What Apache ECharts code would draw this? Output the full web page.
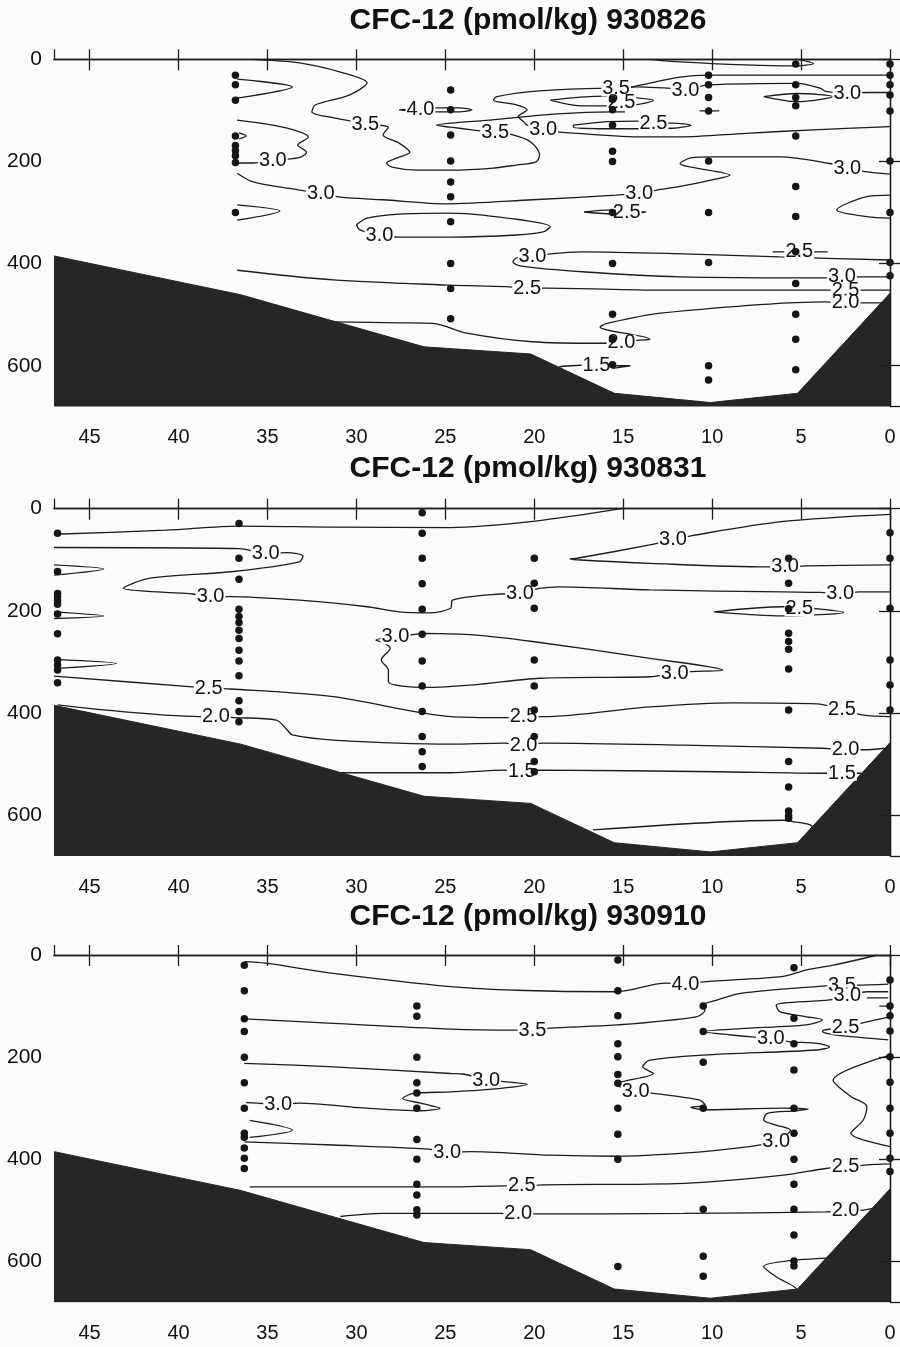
<!DOCTYPE html>
<html>
<head>
<meta charset="utf-8">
<script src="https://cdn.jsdelivr.net/npm/echarts/dist/echarts.min.js"></script>
<style>
  html, body { margin: 0; padding: 0; background: #fbfbfa; }
  #chart { width: 900px; height: 1347px; }
</style>
</head>
<body>
<div id="chart"></div>
<script>
// CFC-12 sections — three surveys, distance (km, reversed) vs depth (m)
//   contours are hand-read polylines, labels sit on a paper-coloured box

const TITLES = ["CFC-12 (pmol/kg) 930826", "CFC-12 (pmol/kg) 930831", "CFC-12 (pmol/kg) 930910"];

// sea floor, shared by all three panels: [distance, depth]
const BATHY = [[47,385],[36.5,461],[26.2,563],[20.2,577],[15.5,654],[10.1,672],[5.2,654],[0,458]];

// ── 930826 ────────────────────────────────────────────────────────────
const P1_STATIONS = [
  [36.8, [31,50,80,150,169,179,189,202,300]],
  [24.7, [60,99,148,199,240,269,318,400,449,508]],
  [15.6, [78,99,129,180,200,300,400,499,548,598]],
  [10.2, [31,50,75,101,199,300,398,600,628]],
  [5.3,  [9,50,75,91,150,249,308,377,439,499,548,608]],
  [0,    [9,31,50,70,101,199,300,398,424]],
];
const P1_LINES = [
  [[35.8,0],[33.2,7],[30.9,25],[29.4,46],[30.4,70],[32.3,89],[32.5,103],[31.2,115],[30.3,121],[29.5,127],[28.2,133],[28.5,148],[27.6,164],[27.0,182],[27.7,193],[28.3,203],[28.0,211],[26.6,217],[24.7,217],[22.3,213],[21.0,207],[19.9,201],[19.7,187],[20.2,162],[21.2,148],[22.2,144],[23.5,138],[24.7,133],[25.5,129],[24.7,125],[22.5,119],[18.7,107],[15.7,103],[14.9,103]],
  [[27.6,99],[25.9,95],[24.2,95],[23.5,99],[24.2,103],[25.9,103],[27.6,99]],
  [[0,65],[1.3,65],[2.4,66],[3.6,63],[3.9,57],[5.2,47],[10.2,50],[11.5,58],[12.7,56],[14.2,54],[15.4,58],[16.3,57],[19.7,62],[22.1,73],[22.3,80],[21.0,89],[20.4,99],[20.9,112],[20.6,122],[20.4,129],[19.5,138],[18.4,143],[14.1,152],[11.8,152],[8.1,145],[4.3,138],[0,132]],
  [[0,31],[10.2,31],[11.8,35],[14.5,54],[15.4,58]],
  [[13.5,0],[11.8,5],[8.1,11],[5.4,13],[4.3,8],[5.2,0]],
  [[7.1,73],[5.2,67],[3.2,73],[5.2,83],[7.1,73]],
  [[10.7,101],[9.6,101]],
  [[19.1,80],[17.4,74],[15.9,72],[14.1,76],[13.3,80],[14.9,91],[17.4,91],[19.1,80]],
  [[17.8,129],[15.9,122],[14.1,121],[13.3,125],[12.2,125],[11.2,129],[12.2,135],[15.9,136],[17.8,133],[17.8,129]],
  [[36.7,39],[33.6,54],[36.7,76]],
  [[36.7,119],[34.7,129],[33.2,142],[32.7,152],[33.3,168],[32.8,182],[33.1,191],[33.7,195],[34.7,199],[35.8,203],[36.6,203],[36.8,201]],
  [[36.6,144],[36.2,150],[36.6,156]],
  [[36.7,223],[35.8,240],[33.2,256],[32.0,262],[30.9,270],[28.5,275],[24.9,283],[20.1,275],[15.4,266],[14.1,262],[13.1,256],[11.8,249],[10.0,236],[9.0,227],[11.8,204],[11.2,193],[10.0,191],[6.2,191],[3.4,204],[2.4,213],[1.4,220],[0,225]],
  [[36.7,285],[34.3,297],[36.7,315]],
  [[30.0,324],[29.4,311],[27.6,303],[24.9,301],[22.9,305],[19.1,328],[19.5,338],[21.0,344],[24.7,348],[27.6,348],[28.7,344],[29.8,334],[30.0,324]],
  [[17.2,299],[15.7,295],[14.8,297],[13.7,299],[15.4,303],[17.2,299]],
  [[0,266],[1.3,269],[3.0,295],[1.3,308],[0,311]],
  [[0,393],[6.2,387],[11.6,381],[17.3,377],[19.1,381],[20.1,387],[21.0,389],[21.2,397],[20.7,405],[17.3,416],[11.8,426],[3.8,428],[2.7,426],[1.7,426],[0,426]],
  [[6.6,377],[3.5,377]],
  [[36.7,413],[31.3,432],[24.9,442],[21.6,445],[20.4,448],[19.3,448],[12.9,452],[3.6,452],[2.5,452],[0,452]],
  [[31.3,514],[27.6,516],[25.7,517],[23.8,536],[20.1,553],[16.3,556],[15.1,554],[14.1,550],[13.5,548],[16.3,524],[15.9,517],[12.9,497],[3.6,475],[2.5,477],[1.4,477],[0.4,477]],
  [[18.6,602],[17.4,599],[16.5,599],[15.6,600],[14.6,600],[15.6,605]],
];
const P1_LABELS = [
  [29.5,127,"3.5"],[22.2,144,"3.5"],[26.4,99,"4.0"],[2.4,66,"3.0"],[11.5,62,"3.0"],[15.4,58,"3.5"],
  [19.5,138,"3.0"],[15.1,84,"2.5"],[13.3,125,"2.5"],[34.7,199,"3.0"],[32.0,262,"3.0"],[14.1,262,"3.0"],
  [2.4,213,"3.0"],[28.7,344,"3.0"],[14.8,299,"2.5"],[20.1,387,"3.0"],[2.7,426,"3.0"],[5.1,377,"2.5"],
  [20.4,448,"2.5"],[2.5,452,"2.5"],[15.1,554,"2.0"],[2.5,477,"2.0"],[16.5,599,"1.5"],
];

// ── 930831 ────────────────────────────────────────────────────────────
const P2_STATIONS = [
  [46.8, [48,123,166,173,180,187,206,245,296,306,316,341]],
  [36.6, [29,97,138,197,211,223,238,254,277,298,327,376,397,417]],
  [26.3, [8,48,97,147,197,246,298,347,397,446,476,505]],
  [20.0, [97,146,195,296,347,394,446,495,515]],
  [5.7,  [97,146,196,244,260,275,314,394,495,545,592,601,606]],
  [0,    [47,97,195,296,345,394]],
];
const P2_LINES = [
  [[47.0,50],[40.7,42],[36.6,34],[31.3,36],[24.7,37],[20.1,25],[15.1,0]],
  [[0,11],[6.0,25],[11.2,53],[12.2,61],[13.5,71],[17.6,97],[18.0,98],[17.6,100],[13.5,107],[6.9,114],[5.9,114],[4.7,112],[0,110]],
  [[47.0,76],[36.6,78],[35.1,87],[33.9,86],[33.0,93],[33.2,104],[36.9,123],[41.6,136],[43.1,156],[41.1,163],[39.2,167],[38.2,172],[37.1,172],[33.2,179],[29.4,192],[27.6,202],[25.9,204],[24.7,195],[24.6,179],[21.9,167],[20.8,166],[19.7,156],[18.6,153],[13.5,159],[6.0,163],[3.9,164],[2.8,166],[1.7,163],[0,163]],
  [[47.0,110],[44.2,118],[47.0,130]],
  [[47.0,202],[44.2,210],[47.0,215]],
  [[47.0,295],[43.5,303],[47.0,313]],
  [[26.2,244],[27.8,251],[28.9,257],[28.4,264],[28.1,273],[28.6,296],[28.2,316],[28.2,339],[26.2,350],[23.4,345],[19.7,332],[13.5,329],[12.1,322],[11.2,319],[9.4,316],[13.5,293],[20.1,260],[23.4,247],[26.2,244]],
  [[47.0,328],[39.2,349],[38.3,352],[37.1,353],[31.3,368],[24.7,407],[21.7,409],[20.6,407],[19.5,407],[13.5,388],[8.8,380],[4.1,382],[2.7,394],[1.5,404],[0,407]],
  [[46.8,384],[38.8,407],[37.9,407],[36.9,409],[34.5,414],[33.9,433],[33.6,443],[31.3,453],[24.7,461],[21.7,459],[20.6,463],[19.5,459],[11.6,463],[3.8,469],[2.5,472],[1.5,472],[0.3,469]],
  [[30.9,517],[24.7,517],[21.7,512],[20.7,515],[19.7,512],[9.7,515],[3.8,518],[2.7,518],[1.6,518]],
  [[16.7,629],[6.0,610],[5.4,613],[4.5,619],[4.2,628]],
  [[9.9,202],[6.0,192],[2.6,203],[6.0,210],[9.9,202]],
];
const P2_LABELS = [
  [12.2,61,"3.0"],[5.9,114,"3.0"],[35.1,87,"3.0"],[38.2,172,"3.0"],[20.8,166,"3.0"],[2.8,166,"3.0"],
  [5.1,196,"2.5"],[27.8,251,"3.0"],[12.1,322,"3.0"],[38.3,352,"2.5"],[20.6,407,"2.5"],[2.7,394,"2.5"],
  [37.9,407,"2.0"],[20.6,463,"2.0"],[2.5,472,"2.0"],[20.7,515,"1.5"],[2.7,518,"1.5"],
];

// ── 930910 ────────────────────────────────────────────────────────────
const P3_STATIONS = [
  [36.3, [20,70,125,150,200,250,300,349,357,378,398,418]],
  [26.6, [100,120,200,250,270,300,361,400,449,470,499,509]],
  [15.3, [10,70,119,174,199,234,251,300,351,400,610]],
  [10.5, [100,150,210,300,498,590,629]],
  [5.4,  [25,124,174,225,300,349,400,449,498,548,599,609]],
  [0,    [49,100,119,149,199,249,300,349,398,424]],
];
const P3_LINES = [
  [[36.3,13],[35.1,16],[31.3,36],[24.7,62],[21.0,69],[15.4,72],[12.6,55],[11.5,56],[10.3,52],[6.0,42],[4.7,29],[3.2,20],[0.7,0]],
  [[36.3,125],[31.3,134],[24.7,145],[21.2,147],[20.1,147],[19.1,143],[15.4,137],[10.9,121],[10.4,108],[10.5,98],[9.7,88],[8.4,75],[3.8,61],[2.7,59],[1.9,59],[0.1,57]],
  [[36.3,212],[31.3,219],[24.7,232],[24.0,233],[22.7,245],[21.7,248],[20.4,253],[21.9,261],[24.7,268],[26.8,271],[27.4,281],[26.4,290],[25.3,300],[26.4,305],[29.4,300],[33.2,290],[34.4,292],[35.6,290],[36.2,289]],
  [[36.0,324],[33.6,343],[36.0,357]],
  [[36.3,366],[31.3,372],[25.9,380],[24.9,386],[23.6,385],[19.1,392],[15.4,394],[11.6,388],[7.9,375],[6.4,366]],
  [[36.0,454],[24.7,454],[21.7,452],[20.7,452],[19.5,450],[11.6,447],[6.0,431],[3.6,418],[2.5,415],[1.3,411],[0,409]],
  [[30.9,512],[28.5,506],[24.7,506],[21.9,506],[20.9,507],[19.8,507],[11.6,506],[3.6,503],[2.5,501],[1.4,499],[1.0,496]],
  [[0.1,72],[1.3,72],[2.4,80],[3.4,88],[6.4,98],[6.2,111],[4.7,121],[3.8,127],[4.7,137],[8.4,144],[10.5,150],[7.9,160],[6.7,164],[5.6,170],[4.1,173],[3.4,180],[4.1,186],[10.5,196],[13.5,206],[13.9,219],[13.3,232],[15.4,253],[14.3,268],[13.3,271],[10.7,284],[10.4,294],[11.2,298],[10.5,303],[6.0,300],[4.6,302],[5.3,305],[6.9,310],[7.1,323],[6.4,333],[5.6,343],[6.4,366]],
  [[0,121],[1.3,131],[2.5,141],[3.7,147],[3.8,150],[3.0,157],[0.1,166]],
  [[0,196],[3.2,245],[2.2,277],[1.3,297],[1.5,323],[2.2,349],[0,375]],
  [[1.3,84],[0.1,84]],
  [[0.6,100],[0.1,100]],
  [[1.3,591],[5.2,597],[7.1,610],[6.4,630],[5.4,649],[5.2,656]],
];
const P3_LABELS = [
  [11.5,58,"4.0"],[20.1,147,"3.5"],[2.7,59,"3.5"],[2.4,80,"3.0"],[2.5,141,"2.5"],[22.7,245,"3.0"],
  [6.7,164,"3.0"],[14.3,268,"3.0"],[34.4,292,"3.0"],[24.9,386,"3.0"],[6.4,366,"3.0"],[20.7,452,"2.5"],
  [2.5,415,"2.5"],[20.9,507,"2.0"],[2.5,501,"2.0"],
];

// ── layout / style ────────────────────────────────────────────────────
const FONT  = '"Liberation Sans", Arial, Helvetica, sans-serif';
const INK   = "#1c1c1c";
const FILL  = "#262626";
const PAPER = "#fbfbfa";

const PANELS = [
  { stations: P1_STATIONS, lines: P1_LINES, labels: P1_LABELS, top: 59.3,  titleY: 21 },
  { stations: P2_STATIONS, lines: P2_LINES, labels: P2_LABELS, top: 508.7, titleY: 469 },
  { stations: P3_STATIONS, lines: P3_LINES, labels: P3_LABELS, top: 955,   titleY: 917 },
];
const GRID_H = 347.3;

const axLine = { show: true, lineStyle: { color: INK, width: 1.3 } };
const tick = len => ({ show: true, inside: false, length: len, lineStyle: { color: INK, width: 1.3 } });

const grid = [], xAxis = [], yAxis = [], series = [], graphic = [];

PANELS.forEach((p, i) => {
  grid.push({ left: 54, right: 10, top: p.top, height: GRID_H });

  const xBase = { gridIndex: i, type: "value", min: 0, max: 47, interval: 5, inverse: true,
                  splitLine: { show: false }, axisLine: axLine, z: 10 };
  xAxis.push({ ...xBase, position: "bottom", axisTick: tick(11),
    axisLabel: { color: "#111", fontSize: 20, fontFamily: FONT, margin: 21, showMaxLabel: false } });
  xAxis.push({ ...xBase, position: "top", axisTick: tick(10), axisLabel: { show: false } });

  const yBase = { gridIndex: i, type: "value", min: 0, max: 680, interval: 200, inverse: true,
                  splitLine: { show: false }, axisLine: axLine, z: 10 };
  yAxis.push({ ...yBase, position: "left", axisTick: tick(11),
    axisLabel: { color: "#111", fontSize: 21, fontFamily: FONT, margin: 12, showMaxLabel: false } });
  yAxis.push({ ...yBase, position: "right", axisTick: tick(10), axisLabel: { show: false } });

  const ax = { xAxisIndex: 2 * i, yAxisIndex: 2 * i, silent: true, animation: false };

  for (const pl of p.lines) {
    series.push({ ...ax, type: "line", data: pl, symbol: "none", smooth: 0.3,
      lineStyle: { color: INK, width: 1.3 }, z: 2 });
  }

  series.push({ ...ax, type: "line", data: BATHY, symbol: "none",
    lineStyle: { color: FILL, width: 1 }, areaStyle: { color: FILL, opacity: 1, origin: "end" }, z: 3 });

  // contour values: text on a paper box so the line breaks around it
  series.push({ ...ax, type: "custom", data: p.labels.map(l => [l[0], l[1]]), z: 4,
    encode: { x: 0, y: 1 },
    renderItem(params, api) {
      const pt = api.coord([api.value(0), api.value(1)]);
      return {
        type: "text", x: pt[0], y: pt[1],
        style: { text: p.labels[params.dataIndex][2], fill: "#111", font: `20px ${FONT}`,
                 align: "center", verticalAlign: "middle",
                 backgroundColor: PAPER, padding: [0, 1], lineHeight: 15 },
      };
    },
  });

  const dots = [];
  for (const [x, depths] of p.stations) for (const d of depths) dots.push([x, d]);
  series.push({ ...ax, type: "scatter", data: dots, symbolSize: 7.5,
    itemStyle: { color: "#151515", opacity: 1 }, z: 5 });

  graphic.push({ type: "text", x: 528, y: p.titleY, z: 20,
    style: { text: TITLES[i], fill: "#111", font: `bold 30px ${FONT}`,
             textAlign: "center", textVerticalAlign: "middle" } });
});

const chart = echarts.init(document.getElementById("chart"));
chart.setOption({
  backgroundColor: PAPER, animation: false,
  grid, xAxis, yAxis, series, graphic,
});
</script>
</body>
</html>
